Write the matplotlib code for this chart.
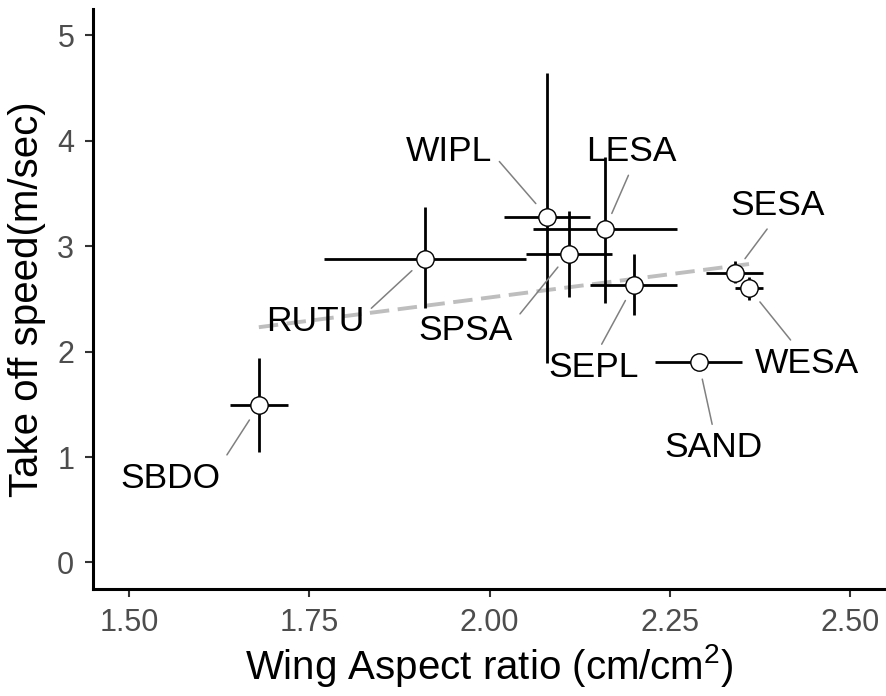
import matplotlib
matplotlib.use("Agg")
import matplotlib.pyplot as plt
import numpy as np

plt.rcParams['font.family'] = ['Liberation Sans', 'DejaVu Sans']
plt.rcParams['mathtext.fontset'] = 'custom'
plt.rcParams['mathtext.rm'] = 'Liberation Sans'

# species means and error bar ends
species = ["SBDO", "RUTU", "WIPL", "SPSA", "LESA", "SEPL", "SAND", "SESA", "WESA"]
aspect = np.array([1.68, 1.91, 2.08, 2.11, 2.16, 2.20, 2.29, 2.34, 2.36])
aspect_lo = np.array([1.64, 1.77, 2.02, 2.05, 2.06, 2.14, 2.23, 2.30, 2.34])
aspect_hi = np.array([1.72, 2.05, 2.14, 2.17, 2.26, 2.26, 2.35, 2.38, 2.38])
speed = np.array([1.49, 2.88, 3.28, 2.93, 3.16, 2.63, 1.90, 2.75, 2.60])
speed_lo = np.array([1.05, 2.41, 1.89, 2.52, 2.46, 2.35, 1.88, 2.65, 2.49])
speed_hi = np.array([1.94, 3.37, 4.64, 3.33, 3.85, 2.93, 1.92, 2.86, 2.71])

# where each label sits and where its leader leaves the box (layout only)
label_pos = {
    "SBDO": (1.557, 0.83), "RUTU": (1.758, 2.32), "WIPL": (1.944, 3.93),
    "LESA": (2.197, 3.93), "SPSA": (1.967, 2.23), "SEPL": (2.144, 1.88),
    "SESA": (2.399, 3.42), "WESA": (2.44, 1.92), "SAND": (2.311, 1.12),
}
leader_from = {
    "SBDO": (1, 0.9), "RUTU": (1, 0.7), "WIPL": (1, 0.45), "LESA": (0.5, 0),
    "SPSA": (1, 0.75), "SEPL": (0.55, 1), "SESA": (0.45, 0), "WESA": (0.4, 1),
    "SAND": (0.5, 1),
}

fig = plt.figure(figsize=(8.86, 6.96), dpi=100)
ax = fig.add_axes([0.105, 0.154, 0.895, 0.833])

# linear fit over the data range
k, b = np.polyfit(aspect, speed, 1)
xs = np.array([aspect.min(), aspect.max()])
fit_line, = ax.plot(xs, k * xs + b, color='#BEBEBE', lw=2.8, zorder=1)
fit_line.set_dashes((5, 2.2))

ax.errorbar(aspect, speed,
            xerr=[aspect - aspect_lo, aspect_hi - aspect],
            yerr=[speed - speed_lo, speed_hi - speed],
            fmt='none', ecolor='black', elinewidth=2, capsize=0, zorder=2)
ax.plot(aspect, speed, 'o', ms=12.5, mfc='white', mec='black', mew=1, zorder=3)

for i, name in enumerate(species):
    ax.annotate(name, xy=(aspect[i], speed[i]), xytext=label_pos[name],
                ha='center', va='center_baseline', fontsize=25.5, color='black',
                bbox=dict(boxstyle='square,pad=0.2', fc='none', ec='none'),
                arrowprops=dict(arrowstyle='-', color='#808080', lw=1.1,
                                relpos=leader_from[name],
                                shrinkA=0, shrinkB=12.5),
                zorder=4)

ax.set_xlim(1.45, 2.55)
ax.set_ylim(-0.25, 5.25)
ax.set_xticks([1.50, 1.75, 2.00, 2.25, 2.50])
ax.set_xticklabels(["1.50", "1.75", "2.00", "2.25", "2.50"])
ax.set_yticks([0, 1, 2, 3, 4, 5])

for s in ['top', 'right']:
    ax.spines[s].set_visible(False)
for s in ['left', 'bottom']:
    ax.spines[s].set_linewidth(2.2)
ax.tick_params(axis='both', length=5.5, width=1.5, color='#333333',
               labelsize=22, labelcolor='#4D4D4D', pad=8)

ax.set_xlabel("Wing Aspect ratio (cm/cm$^2$)", fontsize=29, labelpad=3)
ax.set_ylabel("Take off speed(m/sec)", fontsize=29, labelpad=8)

fig.savefig("out.png", dpi=100)
